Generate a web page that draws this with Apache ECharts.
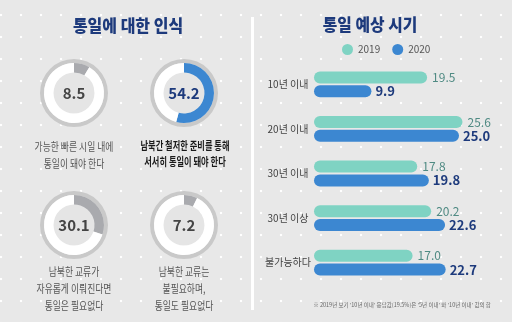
<!DOCTYPE html>
<html><head><meta charset="utf-8">
<script src="https://cdn.jsdelivr.net/npm/echarts@6/dist/echarts.min.js"></script>
<style>
html,body{margin:0;padding:0;}
#c{width:512px;height:322px;background-color:#e8e8e8;
background-image:radial-gradient(circle,#ffffff 0.9px,rgba(255,255,255,0) 1.6px);
background-size:20px 22px;background-position:11px 4px;}
</style></head>
<body><div id="c"></div>
<script>
// ---- data ----
const leftTitle = '통일에 대한 인식';
const rightTitle = '통일 예상 시기';
const donutValues = [8.5, 54.2, 30.1, 7.2];
const donutLabels = [
  '가능한 빠른 시일 내에\n통일이 돼야 한다',
  '남북간 철저한 준비를 통해\n서서히 통일이 돼야 한다',
  '남북한 교류가\n자유롭게 이뤄진다면\n통일은 필요없다',
  '남북한 교류는\n불필요하며,\n통일도 필요없다'
];
const highlightIndex = 1;
const categories = ['10년 이내', '20년 이내', '30년 이내', '30년 이상', '불가능하다'];
const seriesNames = ['2019', '2020'];
const values2019 = [19.5, 25.6, 17.8, 20.2, 17.0];
const values2020 = [9.9, 25.0, 19.8, 22.6, 22.7];
const footnote = "※ 2019년 보기 '10년 이내' 응답값(19.5%)은 '5년 이내' 와 '10년 이내' 값의 합";

// ---- layout / style ----
const FONT = "'Noto Sans CJK KR', 'Noto Sans', sans-serif";
const NAVY = '#1d3a7c';
const TEAL = '#7fd3c3';
const BLUE = '#3c87d1';
const GRAYARC = '#a9aaae';
const centers = [[74, 93], [184, 93], [74, 225], [184, 225]];
const labelPos = [[74, 138], [185, 138], [74, 263], [184, 263]];

const series = [];
donutValues.forEach((v, i) => {
  const c = centers[i];
  const hl = i === highlightIndex;
  series.push({
    type: 'pie', silent: true, center: c, radius: [30, 34], label: {show: false},
    itemStyle: {color: '#c9c9c9'}, data: [{value: 1}], animation: false
  });
  series.push({
    type: 'pie', silent: true, center: c, radius: [0, 20.5], label: {show: false},
    itemStyle: {color: '#e5e5e5'}, data: [{value: 1}], animation: false
  });
  series.push({
    type: 'pie', silent: true, center: c, radius: [20.5, 30], startAngle: 90, clockwise: true,
    animation: false, avoidLabelOverlap: false, labelLine: {show: false},
    data: [
      {value: v, itemStyle: {color: hl ? BLUE : GRAYARC},
       label: {show: true, position: 'center', formatter: String(v),
               fontFamily: FONT, fontSize: 15, fontWeight: 'bold', color: hl ? NAVY : '#444'}},
      {value: 100 - v, itemStyle: {color: '#ffffff'}, label: {show: false}}
    ]
  });
});

series.push({
  name: seriesNames[0], type: 'bar', data: values2019, barWidth: 12, barGap: '15%',
  itemStyle: {color: TEAL, borderRadius: 6},
  label: {show: true, position: 'right', distance: 5, formatter: p => p.value.toFixed(1),
          fontFamily: FONT, fontSize: 12, color: '#4f8a83'}
});
series.push({
  name: seriesNames[1], type: 'bar', data: values2020, barWidth: 12,
  itemStyle: {color: BLUE, borderRadius: 6},
  label: {show: true, position: 'right', distance: 4, formatter: p => p.value.toFixed(1),
          fontFamily: FONT, fontSize: 13, fontWeight: 'bold', color: NAVY}
});

const graphics = [
  {type: 'rect', shape: {x: 251, y: 17, width: 3, height: 293}, style: {fill: '#ffffff'}, silent: true},
  {type: 'text', x: 128, y: 26, scaleX: 0.94, style: {text: leftTitle, font: '900 17px ' + FONT, fill: NAVY, textAlign: 'center', textVerticalAlign: 'middle'}},
  {type: 'text', x: 370, y: 25, scaleX: 0.93, style: {text: rightTitle, font: '900 17px ' + FONT, fill: NAVY, textAlign: 'center', textVerticalAlign: 'middle'}},
  {type: 'text', x: 402, y: 305, style: {text: footnote, font: '5.5px ' + FONT, fill: '#666', textAlign: 'center', textVerticalAlign: 'middle'}}
];
donutLabels.forEach((t, i) => {
  const hl = i === highlightIndex;
  graphics.push({type: 'text', x: labelPos[i][0], y: labelPos[i][1], scaleX: hl ? 0.75 : 0.8,
    style: {text: t, font: (hl ? 'bold 11px ' : '11px ') + FONT, fill: hl ? '#1a1a1a' : '#555',
            textAlign: 'center', lineHeight: hl ? 16 : 17}});
});

const chart = echarts.init(document.getElementById('c'), null, {renderer: 'canvas'});
chart.setOption({
  backgroundColor: 'transparent',
  animation: false,
  legend: {data: seriesNames, left: 337, top: 39, icon: 'circle', itemWidth: 11, itemHeight: 11,
           itemGap: 12, textStyle: {fontFamily: FONT, fontSize: 10, color: '#555'}},
  grid: {left: 314, right: 24, top: 62, bottom: 37},
  xAxis: {type: 'value', min: 0, max: 30, show: false},
  yAxis: {type: 'category', data: categories, inverse: true,
          axisLine: {show: false}, axisTick: {show: false}, splitLine: {show: false},
          axisLabel: {margin: 26, align: 'center', fontFamily: FONT, fontSize: 10, color: '#444'}},
  series: series,
  graphic: graphics
});
</script></body></html>
